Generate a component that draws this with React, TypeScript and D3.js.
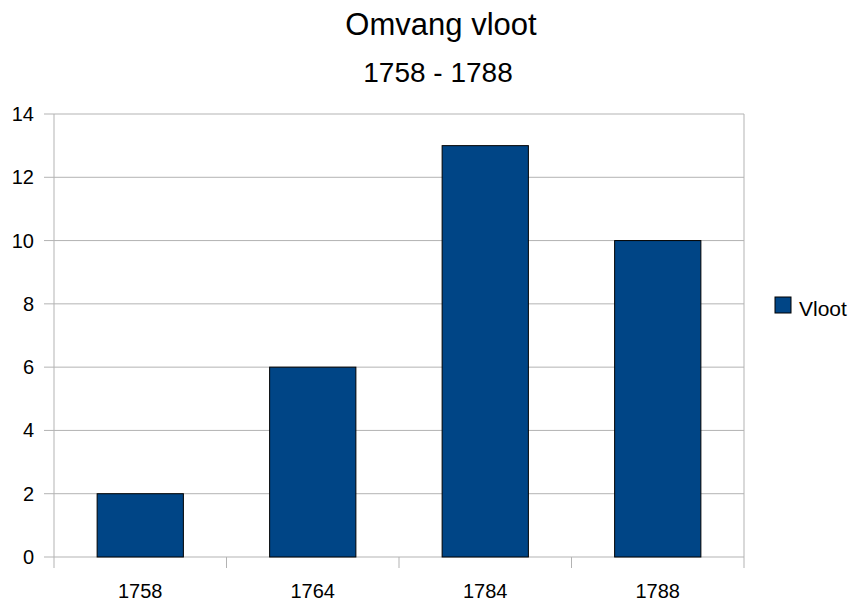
import React from "react";
import * as d3 from "d3";

const categories = ["1758", "1764", "1784", "1788"];
const values = [2, 6, 13, 10];
const yTicks = [0, 2, 4, 6, 8, 10, 12, 14];
const seriesName = "Vloot";
const title = "Omvang vloot";
const subtitle = "1758 - 1788";

export default function App() {
  const W = 852, H = 603;
  const left = 54, right = 744, top = 114, bottom = 557;
  const x = d3.scaleBand<string>().domain(categories).range([left, right]).paddingInner(0.5).paddingOuter(0.25);
  const xb = d3.scaleBand<string>().domain(categories).range([left, right]);
  const y = d3.scaleLinear().domain([0, 14]).range([bottom, top]);
  const font = "'Liberation Sans', Arial, sans-serif";
  const grid = "#b3b3b3";
  const fill = "#004586";
  return (
    <svg width={W} height={H} style={{ position: "absolute", left: 0, top: 0 }} fontFamily={font}>
      <rect x={0} y={0} width={W} height={H} fill="#fff" />
      <text x={441} y={35} textAnchor="middle" fontSize={31} fill="#000">{title}</text>
      <text x={438} y={82} textAnchor="middle" fontSize={28} fill="#000">{subtitle}</text>
      {yTicks.map((t) => (
        <g key={t}>
          <line x1={left - 10} x2={right} y1={y(t)} y2={y(t)} stroke={grid} strokeWidth={1} />
          <text x={34} y={y(t)} dy="0.35em" textAnchor="end" fontSize={20} fill="#000">{t}</text>
        </g>
      ))}
      <line x1={left} x2={left} y1={top} y2={bottom + 11} stroke={grid} />
      <line x1={right} x2={right} y1={top} y2={bottom + 11} stroke={grid} />
      {categories.slice(1).map((c) => (
        <line key={c} x1={xb(c)!} x2={xb(c)!} y1={bottom} y2={bottom + 11} stroke={grid} />
      ))}
      {categories.map((c, i) => (
        <g key={c}>
          <rect x={x(c)!} y={y(values[i])} width={x.bandwidth()} height={bottom - y(values[i])} fill={fill} stroke="#000" strokeWidth={1} />
          <text x={xb(c)! + xb.bandwidth() / 2} y={598} textAnchor="middle" fontSize={20} fill="#000">{c}</text>
        </g>
      ))}
      <rect x={775} y={297} width={16} height={16} fill={fill} stroke="#000" strokeWidth={1} />
      <text x={799} y={316} fontSize={21} fill="#000">{seriesName}</text>
    </svg>
  );
}
